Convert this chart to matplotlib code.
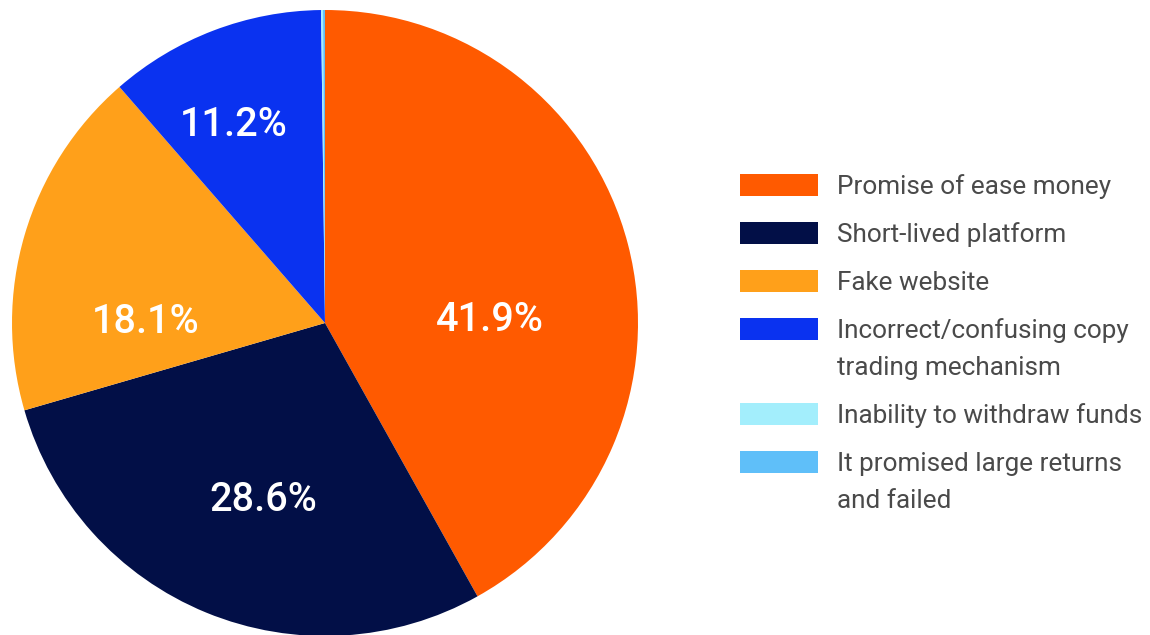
import matplotlib
matplotlib.use("Agg")
import matplotlib.pyplot as plt
from matplotlib.patches import Rectangle

plt.rcParams["font.family"] = ["Roboto", "DejaVu Sans"]

# Share of reported issues (percent)
categories = [
    "Promise of ease money",
    "Short-lived platform",
    "Fake website",
    "Incorrect/confusing copy\ntrading mechanism",
    "Inability to withdraw funds",
    "It promised large returns\nand failed",
]
shares = [41.9, 28.6, 18.1, 11.2, 0.1, 0.1]
colors = ["#FF5A00", "#020F47", "#FFA01A", "#0A32F0", "#A3EEFC", "#5FBFF9"]
labeled = [True, True, True, True, False, False]

# Label anchor points (in pie radius units)
label_xy = [(0.527, 0.008), (-0.198, -0.564), (-0.572, 0.002), (-0.291, 0.631), None, None]

W, H = 1150, 635
fig = plt.figure(figsize=(W / 100, H / 100), dpi=100)

cx, cy, r = 325, 323, 313
ax = fig.add_axes([(cx - r) / W, (H - cy - r) / H, 2 * r / W, 2 * r / H])
ax.pie(shares, colors=colors, startangle=90, counterclock=False,
       radius=1.0, wedgeprops=dict(linewidth=0))
ax.set_xlim(-1, 1)
ax.set_ylim(-1, 1)
ax.set_aspect("equal", adjustable="box")
ax.axis("off")

for val, show, pos in zip(shares, labeled, label_xy):
    if show and pos is not None:
        ax.text(pos[0], pos[1], f"{val:.1f}%", color="white", fontsize=28.5,
                fontweight="medium", ha="center", va="center")

# Legend drawn in its own axes using pixel coordinates
lax = fig.add_axes([0, 0, 1, 1])
lax.set_xlim(0, W)
lax.set_ylim(H, 0)
lax.axis("off")

row_y = [185, 233, 281, 329, 414, 462]
for name, col, y in zip(categories, colors, row_y):
    lax.add_patch(Rectangle((740, y - 11), 78, 22, facecolor=col, edgecolor="none"))
    lines = name.split("\n")
    for i, line in enumerate(lines):
        lax.text(837, y + 2 + i * 37, line, color="#4a4a4a", fontsize=18.8,
                 ha="left", va="center")

fig.savefig("out.png", dpi=100)
